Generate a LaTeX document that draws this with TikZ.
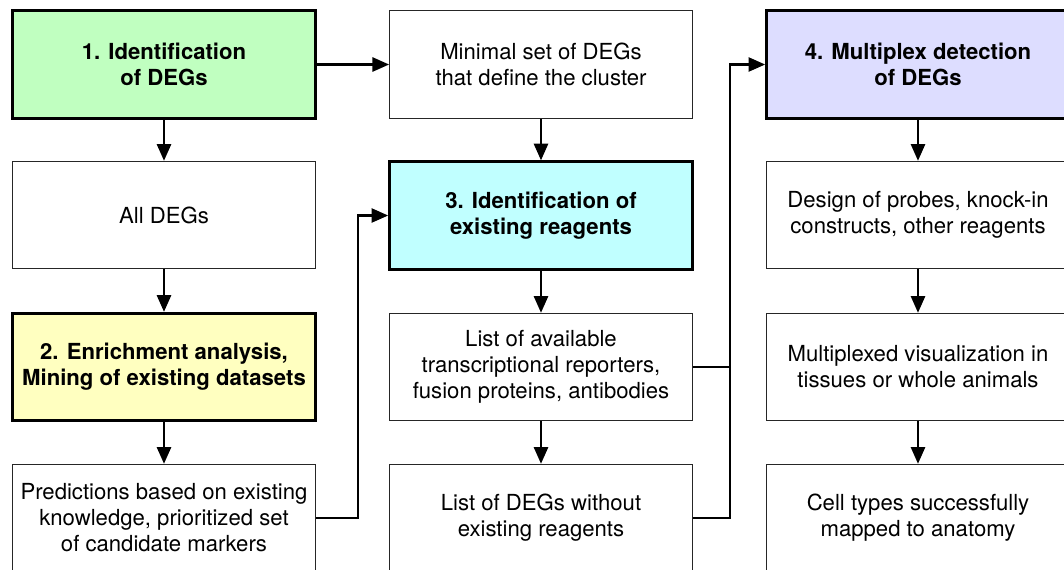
\documentclass[tikz,border=0pt]{standalone}
\usepackage{fontspec}
\setmainfont{TeX Gyre Heros}
\usetikzlibrary{arrows.meta}
\definecolor{cgreen}{RGB}{192,255,192}
\definecolor{cyellow}{RGB}{255,255,192}
\definecolor{ccyan}{RGB}{192,255,255}
\definecolor{cviolet}{RGB}{221,221,255}
\tikzset{
  box/.style={draw=black!85, line width=0.8pt, fill=white, minimum width=227pt, minimum height=80.5pt,
    align=center, inner sep=0pt, font=\fontsize{16.6pt}{19.5pt}\selectfont},
  keybox/.style={box, draw=black, line width=2.2pt, font=\fontsize{16.6pt}{19.5pt}\selectfont\bfseries},
  arr/.style={line width=1.9pt, -{Triangle[length=12.5pt,width=10.5pt]}},
  link/.style={line width=1.9pt}
}
\begin{document}
\begin{tikzpicture}[x=0.75pt,y=-0.75pt]
\useasboundingbox (0,0) rectangle (1064,569);
\clip (0,0) rectangle (1064,569);
% column 1
\node[keybox, fill=cgreen] (s1) at (164,64.5) {1. Identification\\of DEGs};
\node[box] (all) at (164,215) {All DEGs};
\node[keybox, fill=cyellow] (s2) at (164,367) {2. Enrichment analysis,\\Mining of existing datasets};
\node[box] (pred) at (164,518) {Predictions based on existing\\knowledge, prioritized set\\of candidate markers};
% column 2
\node[box] (min) at (541,64.5) {Minimal set of DEGs\\that define the cluster};
\node[keybox, fill=ccyan] (s3) at (541,215.5) {3. Identification of\\existing reagents};
\node[box] (avail) at (541,367) {List of available\\transcriptional reporters,\\fusion proteins, antibodies};
\node[box] (without) at (541,518) {List of DEGs without\\existing reagents};
% column 3
\node[keybox, fill=cviolet] (s4) at (918,64.5) {4. Multiplex detection\\of DEGs};
\node[box] (design) at (918,215) {Design of probes, knock-in\\constructs, other reagents};
\node[box] (multi) at (918,367) {Multiplexed visualization in\\tissues or whole animals};
\node[box] (cell) at (918,518) {Cell types successfully\\mapped to anatomy};
% junction coordinates
\coordinate (j1) at (358,518);
\coordinate (j2) at (730,367);
% connectors
\draw[arr] (s1) -- (min);
\draw[arr] (s1) -- (all);
\draw[arr] (all) -- (s2);
\draw[arr] (s2) -- (pred);
\draw[arr] (pred.east) -- (j1) |- (s3.west);
\draw[arr] (min) -- (s3);
\draw[arr] (s3) -- (avail);
\draw[arr] (avail) -- (without);
\draw[link] (avail.east) -- (j2);
\draw[arr] (without.east) -- (j2 |- without.east) |- (s4.west);
\draw[arr] (s4) -- (design);
\draw[arr] (design) -- (multi);
\draw[arr] (multi) -- (cell);
\end{tikzpicture}
\end{document}
